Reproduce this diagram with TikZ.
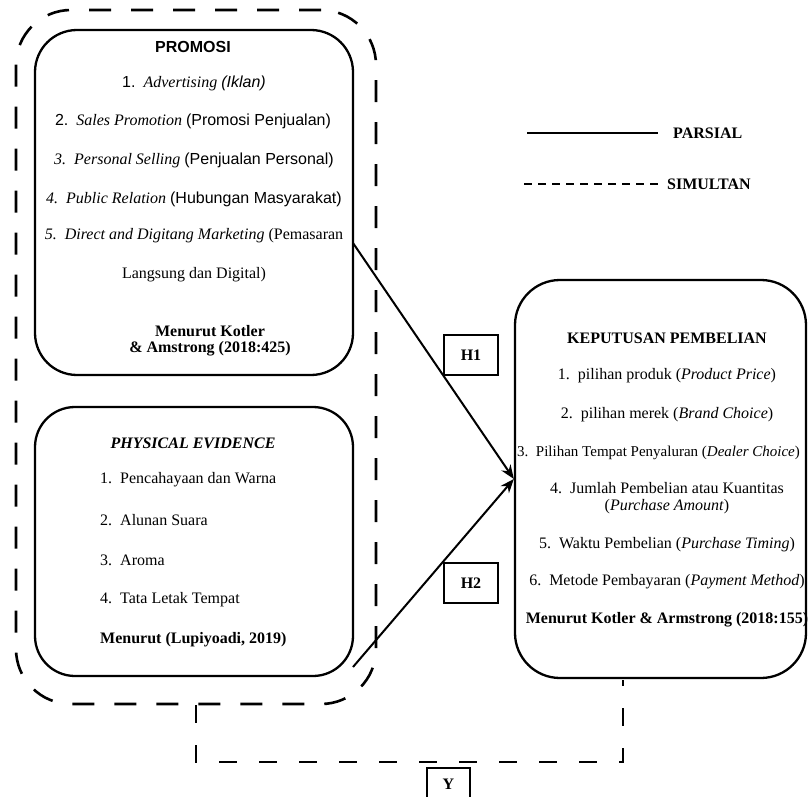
\documentclass[tikz,border=0pt]{standalone}
\usepackage{fontspec}
\setmainfont{Liberation Serif}
\newfontfamily\arialf{Liberation Sans}
\usetikzlibrary{arrows.meta}
\begin{document}
\begin{tikzpicture}[x=1pt,y=-1pt,
 box/.style={draw, line width=2.3pt, rounded corners=42pt},
 outerbox/.style={draw, line width=2.6pt, dash pattern=on 22pt off 20pt, rounded corners=55pt},
 conn/.style={line width=2.6pt, dash pattern=on 18pt off 22pt},
 txt/.style={font=\fontsize{16}{19}\selectfont, inner sep=0pt, align=center},
 bold/.style={font=\fontsize{16}{19}\selectfont\bfseries},
 hbox/.style={draw, line width=1.3pt, minimum width=54pt, minimum height=40pt, inner sep=0pt, font=\fontsize{16}{19}\selectfont\bfseries},
 arr/.style={line width=2pt, -{Stealth[length=14pt,width=11pt]}},
]
\useasboundingbox (0,0) rectangle (809,797);
\fill[white] (0,0) rectangle (809,797);

% boxes
\node[outerbox, minimum width=360pt, minimum height=694pt] (outer) at (196,357) {};
\node[box, minimum width=318pt, minimum height=345pt] (prom) at (194,202.5) {};
\node[box, minimum width=318pt, minimum height=269pt, rounded corners=40pt] (pe) at (194,541.5) {};
\node[box, minimum width=291pt, minimum height=398pt, rounded corners=45pt] (kep) at (660.5,479) {};

% PROMOSI text
\node[txt, font=\fontsize{16}{19}\selectfont\arialf\bfseries] (t0) at (193,47) {PROMOSI};
\node[txt] (t1) at (194,83) {{\arialf 1.}\ \ \textit{Advertising} {\arialf\itshape (Iklan)}};
\node[txt] (t2) at (193,121) {{\arialf 2.}\ \ \textit{Sales Promotion} {\arialf (Promosi Penjualan)}};
\node[txt] (t3) at (194,160) {\textit{3.\ \ Personal Selling} {\arialf (Penjualan Personal)}};
\node[txt] (t4) at (194,199) {\textit{4.\ \ Public Relation} {\arialf (Hubungan Masyarakat)}};
\node[txt] (t5) at (194,236) {\textit{5.\ \ Direct and Digitang Marketing} (Pemasaran};
\node[txt] (t6) at (194,275) {Langsung dan Digital)};
\node[txt, bold] (t7) at (210,331) {Menurut Kotler};
\node[txt, bold] (t8) at (210,349) {\& Amstrong (2018:425)};

% PHYSICAL EVIDENCE text
\node[txt, font=\fontsize{16}{19}\selectfont\bfseries\itshape] (p0) at (193,443) {PHYSICAL EVIDENCE};
\node[txt, anchor=west] (p1) at (100,480) {1.\ \ Pencahayaan dan Warna};
\node[txt, anchor=west] (p2) at (100,520) {2.\ \ Alunan Suara};
\node[txt, anchor=west] (p3) at (100,560) {3.\ \ Aroma};
\node[txt, anchor=west] (p4) at (100,600) {4.\ \ Tata Letak Tempat};
\node[txt, anchor=west, bold] (p5) at (100,640) {Menurut (Lupiyoadi, 2019)};

% KEPUTUSAN text
\node[txt, bold] (k0) at (667,338) {KEPUTUSAN PEMBELIAN};
\node[txt] (k1) at (667,376) {1.\ \ pilihan produk (\textit{Product Price})};
\node[txt] (k2) at (667,415) {2.\ \ pilihan merek (\textit{Brand Choice})};
\node[txt, anchor=west, font=\fontsize{15}{19}\selectfont] (k3) at (517,453) {3.\ \ Pilihan Tempat Penyaluran (\textit{Dealer Choice})};
\node[txt] (k4) at (667,488) {4.\ \ Jumlah Pembelian atau Kuantitas};
\node[txt] (k4b) at (667,507) {(\textit{Purchase Amount})};
\node[txt] (k5) at (667,545) {5.\ \ Waktu Pembelian (\textit{Purchase Timing})};
\node[txt] (k6) at (667,582) {6.\ \ Metode Pembayaran (\textit{Payment Method})};
\node[txt, bold] (k7) at (667,620) {Menurut Kotler \& Armstrong (2018:155)};

% hypothesis boxes
\node[hbox] (h1) at (471,355) {H1};
\node[hbox] (h2) at (471,583) {H2};

% arrows
\coordinate (h1s) at (353,243);
\coordinate (h2s) at (353,667);
\draw[arr] (h1s) -- (kep.west);
\draw[arr] (h2s) -- (kep.west);

% legend
\coordinate (la) at (527,133);
\coordinate (lb) at (658,133);
\coordinate (lc) at (524,184);
\coordinate (ld) at (658,184);
\draw[line width=2.2pt] (la) -- (lb);
\draw[line width=2.6pt, dash pattern=on 8pt off 6pt] (lc) -- (ld);
\node[txt, anchor=west, bold] (lp) at (673,133) {PARSIAL};
\node[txt, anchor=west, bold] (ls) at (667,184) {SIMULTAN};

% bottom simultaneous connector
\coordinate (kb) at (623,680);
\coordinate (yl) at (196,762);
\draw[conn] (outer.south) -- (yl) -| (kb);
\node[hbox, minimum width=43pt, minimum height=32pt] (y) at (448.5,784) {Y};
\end{tikzpicture}
\end{document}
